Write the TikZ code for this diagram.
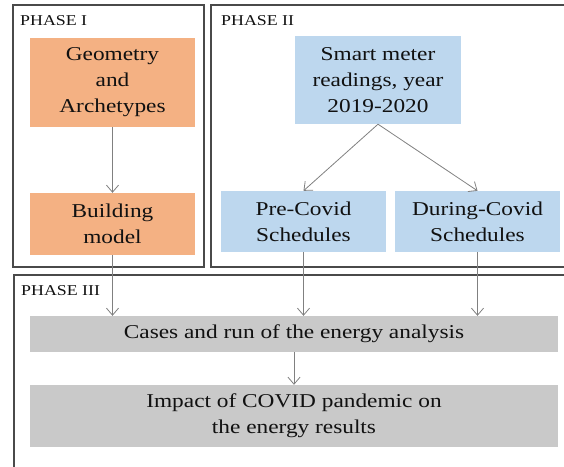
\documentclass[tikz,border=0pt]{standalone}
\usepackage{fontspec}
\setmainfont[FakeStretch=1.19]{Liberation Serif}
\usetikzlibrary{arrows.meta}
\definecolor{orangefill}{HTML}{F4B183}
\definecolor{bluefill}{HTML}{BDD7EE}
\definecolor{grayfill}{HTML}{C9C9C9}
\definecolor{framecol}{HTML}{4A4A4A}
\definecolor{arrowcol}{HTML}{808080}
\definecolor{textcol}{HTML}{111111}
\tikzset{
  box/.style={rectangle, inner sep=0pt, align=center, text=textcol,
    font=\fontsize{19.6}{26}\selectfont},
  obox/.style={box, fill=orangefill},
  bbox/.style={box, fill=bluefill},
  gbox/.style={box, fill=grayfill},
  frame/.style={draw=framecol, line width=1.15pt},
  phase/.style={anchor=base west, inner sep=0pt, text=textcol,
    font=\fontsize{15}{18}\selectfont},
  conn/.style={draw=arrowcol, line width=0.8pt,
    -{Straight Barb[length=7pt,width=12pt,line width=0.8pt]}},
}
\begin{document}
\begin{tikzpicture}[x=1pt,y=-1pt]
\useasboundingbox (0,0) rectangle (564,466);
\begin{scope}
\clip (0,0) rectangle (564,466);
\draw[frame] (13,5) rectangle (204,267);
\draw[frame] (211,5) rectangle (620,267);
\draw[frame] (14,275) rectangle (620,520);
\end{scope}
\node[phase] (p1) at (20,25.5) {PHASE I};
\node[phase] (p2) at (221,25.5) {PHASE II};
\node[phase] (p3) at (21,295.5) {PHASE III};

\node[obox, minimum width=165pt, minimum height=89pt] (geo) at (112.5,82.5) {Geometry\\and\\Archetypes};
\node[obox, minimum width=165pt, minimum height=62pt] (bm) at (112.5,224) {Building\\model};
\node[bbox, minimum width=166pt, minimum height=88pt] (sm) at (378,80) {Smart meter\\readings, year\\2019-2020};
\node[bbox, minimum width=165pt, minimum height=61pt] (pre) at (303.5,221.5) {Pre-Covid\\Schedules};
\node[bbox, minimum width=165pt, minimum height=61pt] (dur) at (477.5,221.5) {During-Covid\\Schedules};
\node[gbox, minimum width=528pt, minimum height=36pt] (cases) at (294,334) {Cases and run of the energy analysis};
\node[gbox, minimum width=528pt, minimum height=62pt] (imp) at (294,416) {Impact of COVID pandemic on\\the energy results};

\draw[conn] (geo.south) -- (bm.north);
\draw[conn] (bm.south) -- (bm.south |- cases.north);
\draw[conn] (sm.south) -- (pre.north);
\draw[conn] (sm.south) -- (dur.north);
\draw[conn] (pre.south) -- (pre.south |- cases.north);
\draw[conn] (dur.south) -- (dur.south |- cases.north);
\draw[conn] (cases.south) -- (imp.north);
\end{tikzpicture}
\end{document}
